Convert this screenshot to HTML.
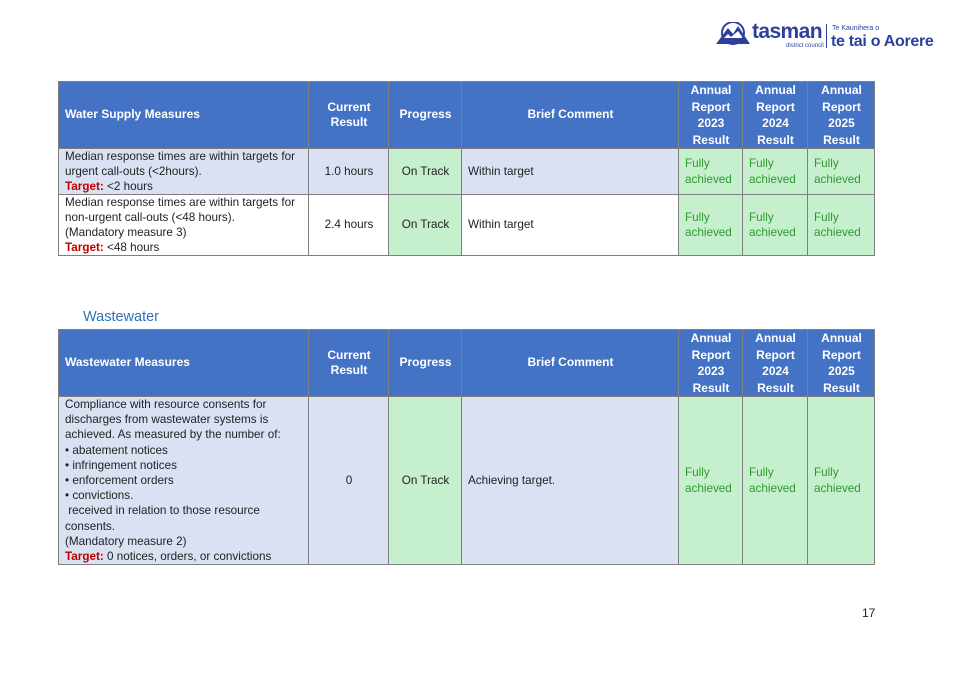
<!DOCTYPE html>
<html><head><meta charset="utf-8"><style>
body{margin:0;width:956px;height:676px;background:#fff;position:relative;font-family:"Liberation Sans",sans-serif;overflow:hidden}
.c{position:absolute;box-sizing:border-box;border:1px solid #7f7f7f;display:flex;align-items:center;font-size:11.7px;line-height:15.2px;color:#222;padding:0 5px 0 6px}
.h{background:#4472c4;color:#fff;font-weight:bold;font-size:12px;justify-content:center;text-align:center}
.l{background:#dae1f3}
.g{background:#c6efce}
.gt{color:#2e9a2e}
.ctr{justify-content:center;text-align:center}
.r{color:#c00000;font-weight:bold}
</style></head><body>
<!-- logo -->
<div style="position:absolute;left:716px;top:22px;width:34px;height:24px">
<svg width="34" height="24"><path d="M0 22 L12 6 L17 12 L22 4 L34 22 Z" fill="#2e3f9e"/><path d="M8 16 L12 12 L15 15 L22 9 L27 16 Z" fill="#fff"/><circle cx="17" cy="11" r="11" fill="none" stroke="#2e3f9e" stroke-width="2"/></svg></div>
<div style="position:absolute;left:752px;top:20px;font-size:21px;font-weight:bold;color:#2e3f9e;letter-spacing:-0.6px">tasman</div>
<div style="position:absolute;left:786px;top:43px;font-size:6px;color:#2e3f9e">district council</div>
<div style="position:absolute;left:826px;top:24px;width:1px;height:24px;background:#2e3f9e"></div>
<div style="position:absolute;left:832px;top:25px;font-size:7px;color:#2e3f9e">Te Kaunihera o</div>
<div style="position:absolute;left:831px;top:33px;font-size:16px;font-weight:bold;color:#2e3f9e;letter-spacing:-0.3px">te tai o Aorere</div>

<!-- Table 1 -->
<div class="c h" style="left:58px;top:81px;width:251px;height:68px;justify-content:flex-start">Water Supply Measures</div>
<div class="c h" style="left:308px;top:81px;width:81px;height:68px">Current<br>Result</div>
<div class="c h" style="left:388px;top:81px;width:74px;height:68px">Progress</div>
<div class="c h" style="left:461px;top:81px;width:218px;height:68px">Brief Comment</div>
<div class="c h" style="left:678px;top:81px;width:65px;height:68px;line-height:16.5px">Annual<br>Report<br>2023<br>Result</div>
<div class="c h" style="left:742px;top:81px;width:66px;height:68px;line-height:16.5px">Annual<br>Report<br>2024<br>Result</div>
<div class="c h" style="left:807px;top:81px;width:68px;height:68px;line-height:16.5px">Annual<br>Report<br>2025<br>Result</div>

<div class="c l" style="left:58px;top:148px;width:251px;height:47px"><div>Median response times are within targets for urgent call-outs (&lt;2hours).<br><span class="r">Target:</span> &lt;2 hours</div></div>
<div class="c l ctr" style="left:308px;top:148px;width:81px;height:47px">1.0 hours</div>
<div class="c g ctr" style="left:388px;top:148px;width:74px;height:47px">On Track</div>
<div class="c l" style="left:461px;top:148px;width:218px;height:47px">Within target</div>
<div class="c g gt" style="left:678px;top:148px;width:65px;height:47px">Fully<br>achieved</div>
<div class="c g gt" style="left:742px;top:148px;width:66px;height:47px">Fully<br>achieved</div>
<div class="c g gt" style="left:807px;top:148px;width:68px;height:47px">Fully<br>achieved</div>

<div class="c" style="left:58px;top:194px;width:251px;height:62px"><div>Median response times are within targets for non-urgent call-outs (&lt;48 hours).<br>(Mandatory measure 3)<br><span class="r">Target:</span> &lt;48 hours</div></div>
<div class="c ctr" style="left:308px;top:194px;width:81px;height:62px">2.4 hours</div>
<div class="c g ctr" style="left:388px;top:194px;width:74px;height:62px">On Track</div>
<div class="c" style="left:461px;top:194px;width:218px;height:62px">Within target</div>
<div class="c g gt" style="left:678px;top:194px;width:65px;height:62px">Fully<br>achieved</div>
<div class="c g gt" style="left:742px;top:194px;width:66px;height:62px">Fully<br>achieved</div>
<div class="c g gt" style="left:807px;top:194px;width:68px;height:62px">Fully<br>achieved</div>

<div style="position:absolute;left:83px;top:309px;font-size:14.5px;color:#2e74b5">Wastewater</div>

<!-- Table 2 -->
<div class="c h" style="left:58px;top:329px;width:251px;height:68px;justify-content:flex-start">Wastewater Measures</div>
<div class="c h" style="left:308px;top:329px;width:81px;height:68px">Current<br>Result</div>
<div class="c h" style="left:388px;top:329px;width:74px;height:68px">Progress</div>
<div class="c h" style="left:461px;top:329px;width:218px;height:68px">Brief Comment</div>
<div class="c h" style="left:678px;top:329px;width:65px;height:68px;line-height:16.5px">Annual<br>Report<br>2023<br>Result</div>
<div class="c h" style="left:742px;top:329px;width:66px;height:68px;line-height:16.5px">Annual<br>Report<br>2024<br>Result</div>
<div class="c h" style="left:807px;top:329px;width:68px;height:68px;line-height:16.5px">Annual<br>Report<br>2025<br>Result</div>

<div class="c l" style="left:58px;top:396px;width:251px;height:169px"><div>Compliance with resource consents for discharges from wastewater systems is achieved. As measured by the number of:<br>• abatement notices<br>• infringement notices<br>• enforcement orders<br>• convictions.<br>&nbsp;received in relation to those resource<br>consents.<br>(Mandatory measure 2)<br><span class="r">Target:</span> 0 notices, orders, or convictions</div></div>
<div class="c l ctr" style="left:308px;top:396px;width:81px;height:169px">0</div>
<div class="c g ctr" style="left:388px;top:396px;width:74px;height:169px">On Track</div>
<div class="c l" style="left:461px;top:396px;width:218px;height:169px">Achieving target.</div>
<div class="c g gt" style="left:678px;top:396px;width:65px;height:169px">Fully<br>achieved</div>
<div class="c g gt" style="left:742px;top:396px;width:66px;height:169px">Fully<br>achieved</div>
<div class="c g gt" style="left:807px;top:396px;width:68px;height:169px">Fully<br>achieved</div>

<div style="position:absolute;left:862px;top:606px;font-size:12px;color:#222">17</div>
</body></html>
